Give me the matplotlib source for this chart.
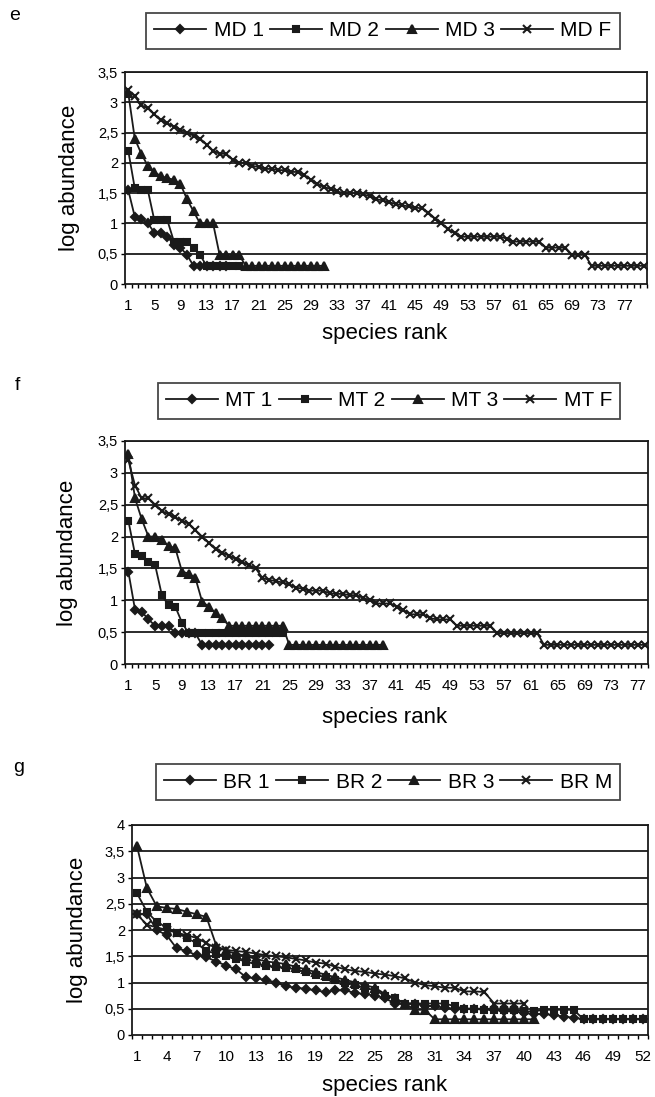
import numpy as np
import matplotlib
matplotlib.use("Agg")
import matplotlib.pyplot as plt

plt.rcParams["font.family"] = ["Liberation Sans", "DejaVu Sans"]

W, H = 655, 1097
INK = "#1a1a1a"

# panel e
md_1 = [1.55, 1.11, 1.08, 1.0, 0.85, 0.84, 0.78, 0.65, 0.6, 0.48,
        0.3, 0.3, 0.3, 0.3, 0.3, 0.3]
md_2 = [2.2, 1.58, 1.56, 1.55, 1.05, 1.05, 1.05, 0.7, 0.7, 0.7,
        0.6, 0.48, 0.3, 0.3, 0.3, 0.3, 0.3, 0.3]
md_3 = [3.15, 2.4, 2.15, 1.95, 1.85, 1.78, 1.75, 1.72, 1.65, 1.4,
        1.2, 1.0, 1.0, 1.0, 0.48, 0.48, 0.48, 0.48, 0.3, 0.3,
        0.3, 0.3, 0.3, 0.3, 0.3, 0.3, 0.3, 0.3, 0.3, 0.3, 0.3]
md_f = [3.2, 3.1, 2.95, 2.9, 2.8, 2.7, 2.65, 2.6, 2.55, 2.5,
        2.45, 2.4, 2.3, 2.2, 2.15, 2.15, 2.05, 2.0, 2.0, 1.95,
        1.93, 1.9, 1.9, 1.88, 1.88, 1.85, 1.85, 1.8, 1.72, 1.65,
        1.6, 1.57, 1.53, 1.5, 1.5, 1.5, 1.48, 1.45, 1.4, 1.38,
        1.35, 1.32, 1.3, 1.28, 1.26, 1.25, 1.18, 1.08, 1.0, 0.9,
        0.84, 0.78, 0.78, 0.78, 0.78, 0.78, 0.78, 0.78, 0.75, 0.7,
        0.7, 0.7, 0.7, 0.7, 0.6, 0.6, 0.6, 0.6, 0.48, 0.48,
        0.48, 0.3, 0.3, 0.3, 0.3, 0.3, 0.3, 0.3, 0.3, 0.3]

# panel f
mt_1 = [1.45, 0.85, 0.82, 0.7, 0.6, 0.6, 0.6, 0.48, 0.48, 0.48,
        0.48, 0.3, 0.3, 0.3, 0.3, 0.3, 0.3, 0.3, 0.3, 0.3,
        0.3, 0.3]
mt_2 = [2.25, 1.72, 1.7, 1.6, 1.55, 1.08, 0.92, 0.9, 0.65, 0.48,
        0.48, 0.48, 0.48, 0.48, 0.48, 0.48, 0.48, 0.48, 0.48, 0.48,
        0.48, 0.48, 0.48, 0.48]
mt_3 = [3.3, 2.6, 2.27, 2.0, 2.0, 1.95, 1.85, 1.82, 1.45, 1.42,
        1.35, 0.98, 0.9, 0.8, 0.72, 0.6, 0.6, 0.6, 0.6, 0.6,
        0.6, 0.6, 0.6, 0.6, 0.3, 0.3, 0.3, 0.3, 0.3, 0.3,
        0.3, 0.3, 0.3, 0.3, 0.3, 0.3, 0.3, 0.3, 0.3]
mt_f = [3.2, 2.8, 2.6, 2.6, 2.5, 2.4, 2.35, 2.3, 2.25, 2.2,
        2.1, 2.0, 1.9, 1.8, 1.75, 1.7, 1.65, 1.6, 1.55, 1.5,
        1.35, 1.32, 1.3, 1.28, 1.25, 1.2, 1.18, 1.15, 1.15, 1.15,
        1.11, 1.1, 1.1, 1.08, 1.08, 1.04, 1.0, 0.95, 0.95, 0.95,
        0.9, 0.85, 0.78, 0.78, 0.78, 0.72, 0.7, 0.7, 0.7, 0.6,
        0.6, 0.6, 0.6, 0.6, 0.6, 0.48, 0.48, 0.48, 0.48, 0.48,
        0.48, 0.48, 0.3, 0.3, 0.3, 0.3, 0.3, 0.3, 0.3, 0.3,
        0.3, 0.3, 0.3, 0.3, 0.3, 0.3, 0.3, 0.3]

# panel g
br_1 = [2.3, 2.3, 2.0, 1.9, 1.65, 1.6, 1.52, 1.48, 1.4, 1.32,
        1.25, 1.1, 1.08, 1.05, 1.0, 0.93, 0.9, 0.88, 0.85, 0.82,
        0.85, 0.85, 0.8, 0.78, 0.75, 0.7, 0.6, 0.6, 0.6, 0.55,
        0.55, 0.52, 0.5, 0.5, 0.5, 0.5, 0.48, 0.45, 0.45, 0.42,
        0.4, 0.4, 0.38, 0.35, 0.33, 0.3, 0.3, 0.3, 0.3, 0.3,
        0.3, 0.3]
br_2 = [2.7, 2.35, 2.15, 2.05, 1.95, 1.85, 1.75, 1.6, 1.55, 1.5,
        1.45, 1.4, 1.35, 1.32, 1.3, 1.28, 1.25, 1.2, 1.15, 1.1,
        1.05, 1.0, 0.95, 0.9, 0.85, 0.75, 0.7, 0.6, 0.6, 0.6,
        0.6, 0.6, 0.55, 0.5, 0.5, 0.48, 0.48, 0.48, 0.48, 0.45,
        0.45, 0.48, 0.48, 0.48, 0.48, 0.3, 0.3, 0.3, 0.3, 0.3,
        0.3, 0.3]
br_3 = [3.6, 2.8, 2.45, 2.42, 2.4, 2.35, 2.3, 2.25, 1.7, 1.6,
        1.55, 1.5, 1.45, 1.4, 1.38, 1.35, 1.3, 1.25, 1.2, 1.15,
        1.1, 1.05, 1.0, 0.95, 0.9, 0.78, 0.7, 0.6, 0.48, 0.48,
        0.3, 0.3, 0.3, 0.3, 0.3, 0.3, 0.3, 0.3, 0.3, 0.3, 0.3]
br_m = [2.3, 2.1, 2.05, 2.0, 1.95, 1.9, 1.85, 1.75, 1.65, 1.62,
        1.6, 1.58, 1.55, 1.52, 1.5, 1.48, 1.45, 1.42, 1.38, 1.36,
        1.3, 1.25, 1.22, 1.2, 1.17, 1.15, 1.12, 1.08, 1.0, 0.95,
        0.93, 0.9, 0.9, 0.83, 0.83, 0.82, 0.6, 0.6, 0.6, 0.6]

labels_e = ["MD 1", "MD 2", "MD 3", "MD F"]
labels_f = ["MT 1", "MT 2", "MT 3", "MT F"]
labels_g = ["BR 1", "BR 2", "BR 3", "BR M"]

xticks_e = [1, 5, 9, 13, 17, 21, 25, 29, 33, 37, 41, 45, 49, 53, 57, 61, 65, 69, 73, 77]
xticks_f = [1, 5, 9, 13, 17, 21, 25, 29, 33, 37, 41, 45, 49, 53, 57, 61, 65, 69, 73, 77]
xticks_g = [1, 4, 7, 10, 13, 16, 19, 22, 25, 28, 31, 34, 37, 40, 43, 46, 49, 52]

yticks_35 = [0, 0.5, 1, 1.5, 2, 2.5, 3, 3.5]
ylabels_35 = ["0", "0,5", "1", "1,5", "2", "2,5", "3", "3,5"]
yticks_4 = [0, 0.5, 1, 1.5, 2, 2.5, 3, 3.5, 4]
ylabels_4 = ["0", "0,5", "1", "1,5", "2", "2,5", "3", "3,5", "4"]

markers = [("D", 4.2), ("s", 4.2), ("^", 5.4), ("x", 5.8)]

fig = plt.figure(figsize=(W / 100, H / 100), dpi=100)


def panel(letter, series, names, n_cat, xticks, yticks, ylabels, box, legend_c,
          ylab_x, xlab_y):
    left, right, top, bottom = box
    ax = fig.add_axes([left / W, 1 - bottom / H, (right - left) / W, (bottom - top) / H])
    handles = []
    for vals, (m, ms), name in zip(series, markers, names):
        x = np.arange(1, len(vals) + 1)
        (h,) = ax.plot(x, vals, color=INK, lw=1.3, marker=m, ms=ms,
                       mew=1.5, mfc=INK, mec=INK, label=name, zorder=3)
        handles.append(h)
    ax.set_xlim(0.5, n_cat + 0.5)
    ax.set_ylim(0, yticks[-1])
    for y in yticks[1:]:
        ax.axhline(y, color=INK, lw=1.3, zorder=1)
    ax.set_yticks(yticks)
    ax.set_yticklabels(ylabels)
    ax.set_xticks(xticks)
    ax.set_xticklabels([str(t) for t in xticks])
    ax.set_xticks(np.arange(0.5, n_cat + 1, 1), minor=True)
    ax.tick_params(axis="x", which="major", length=0, pad=11, labelsize=11)
    ax.tick_params(axis="x", which="minor", length=3, width=1, direction="out")
    ax.tick_params(axis="y", length=3, width=1, pad=2, labelsize=10.5)
    for s in ax.spines.values():
        s.set_linewidth(1.3)
        s.set_color(INK)
    fig.text(ylab_x / W, 1 - (top + bottom) / 2 / H, "log abundance",
             rotation=90, ha="center", va="center", fontsize=16)
    fig.text(385 / W, 1 - xlab_y / H, "species rank", ha="center", va="center", fontsize=16)
    fig.text(letter[1] / W, 1 - letter[2] / H, letter[0], ha="center", va="center", fontsize=14)
    leg = fig.legend(handles=handles, loc="center", ncol=4,
                     bbox_to_anchor=(legend_c[0] / W, 1 - legend_c[1] / H),
                     fontsize=15, frameon=True, fancybox=False, handlelength=2.5,
                     handletextpad=0.35, columnspacing=0.3, borderpad=0.4,
                     borderaxespad=0)
    leg.get_frame().set_edgecolor(INK)
    leg.get_frame().set_linewidth(1.3)
    return ax


panel(("e", 15, 16), [md_1, md_2, md_3, md_f], labels_e, 80, xticks_e,
      yticks_35, ylabels_35, (125, 647, 72, 284), (383, 31), 69, 333)
panel(("f", 17, 385), [mt_1, mt_2, mt_3, mt_f], labels_f, 78, xticks_f,
      yticks_35, ylabels_35, (125, 648, 441, 664), (389, 401), 67, 717)
panel(("g", 19, 768), [br_1, br_2, br_3, br_m], labels_g, 52, xticks_g,
      yticks_4, ylabels_4, (132, 648, 825, 1035), (388, 782), 77, 1085)

fig.savefig("out.png", dpi=100)
